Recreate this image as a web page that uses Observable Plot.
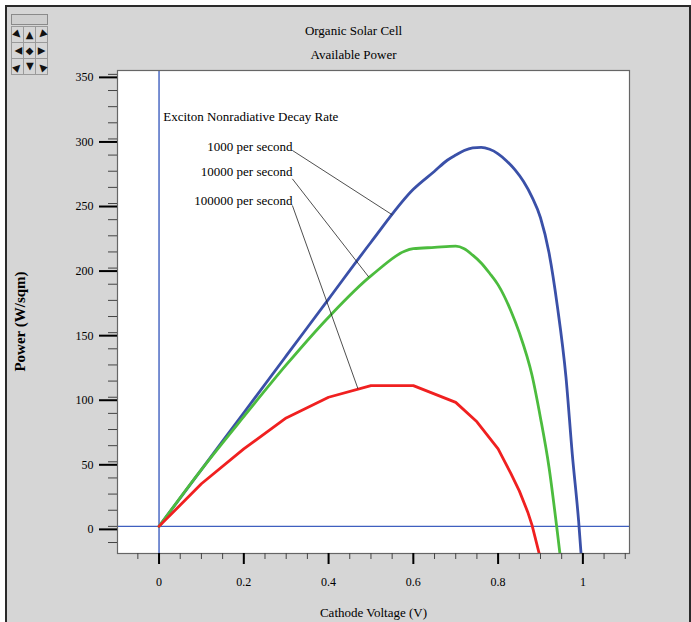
<!DOCTYPE html>
<html>
<head>
<meta charset="utf-8">
<script src="https://cdn.jsdelivr.net/npm/d3@7"></script>
<script src="https://cdn.jsdelivr.net/npm/@observablehq/plot@0.6"></script>
<style>
  html, body { margin: 0; padding: 0; background: white; }
  #wrap { position: relative; width: 691px; height: 622px; overflow: hidden; font-family: "Liberation Serif", serif; }
  #panel { position: absolute; left: 5px; top: 5px; width: 686px; height: 617px; box-sizing: border-box;
           background: #d6d6d6; border: 2px solid #2a2a2a; border-bottom: none; }
  #nav { position: absolute; left: 11px; top: 14px; width: 37px; }
  #nav .bar { height: 11px; border: 1px solid #8a8a8a; box-sizing: border-box;
              background-color: #cfcfcf;
              background-image: radial-gradient(#8c8c8c 0.6px, transparent 0.7px);
              background-size: 2px 2px; margin-bottom: 1px; }
  #nav .grid { display: grid; grid-template-columns: 12px 12px 12px; grid-auto-rows: 16px;
               border-left: 1px solid #9a9a9a; border-top: 1px solid #9a9a9a; width: 37px; box-sizing: border-box; }
  #nav .grid span { display: flex; align-items: center; justify-content: center;
                    border-right: 1px solid #9a9a9a; border-bottom: 1px solid #9a9a9a;
                    font-family: "DejaVu Sans", sans-serif; font-size: 10px; color: #111; }
  #nav .grid span i { font-style: normal; display: inline-block; line-height: 1; }
  #chart { position: absolute; left: 0; top: 0; }
</style>
</head>
<body>
<div id="wrap">
  <div id="panel"></div>
  <div id="nav">
    <div class="bar"></div>
    <div class="grid">
      <span><i style="transform:rotate(135deg)">▲</i></span>
      <span><i>▲</i></span>
      <span><i style="transform:rotate(-135deg)">▲</i></span>
      <span><i style="transform:rotate(-90deg)">▲</i></span>
      <span><i>◆</i></span>
      <span><i style="transform:rotate(90deg)">▲</i></span>
      <span><i style="transform:rotate(45deg)">▲</i></span>
      <span><i style="transform:rotate(180deg)">▲</i></span>
      <span><i style="transform:rotate(-45deg)">▲</i></span>
    </div>
  </div>
  <div id="chart"></div>
</div>
<script>
// ---- Data ----
const voltBlue  = [0, 0.1, 0.2, 0.3, 0.4, 0.5, 0.6, 0.65, 0.68, 0.7, 0.72, 0.74, 0.76, 0.78, 0.8, 0.82, 0.84, 0.86, 0.88, 0.9, 0.92, 0.94, 0.96, 0.975, 0.99, 1.0];
const powerBlue = [0, 44, 88, 132, 176, 220, 261, 275, 283.5, 287.5, 291, 293, 293.5, 292, 288.5, 283, 276, 267, 255, 239, 212, 170, 116, 56, 4, -40];

const voltGreen  = [0, 0.1, 0.2, 0.3, 0.4, 0.5, 0.6, 0.65, 0.7, 0.72, 0.74, 0.76, 0.78, 0.8, 0.83, 0.85, 0.88, 0.9, 0.92, 0.94, 0.96];
const powerGreen = [0, 44, 85, 125, 162, 194, 215, 216, 217, 215, 210, 204, 196, 187, 167, 150, 117, 84, 46, -5, -60];

const voltRed  = [0, 0.1, 0.2, 0.3, 0.4, 0.5, 0.6, 0.7, 0.75, 0.8, 0.83, 0.85, 0.87, 0.88, 0.9];
const powerRed = [0, 33, 60, 84, 100, 109, 109, 96, 81, 60, 41, 27.5, 11, 1, -25];

const seriesNames  = ["1000 per second", "10000 per second", "100000 per second"];
const seriesColors = ["#3a50a8", "#4cbc3e", "#f02020"];

const xMajorTicks = [0, 0.2, 0.4, 0.6, 0.8, 1];
const xMinorTicks = d3.range(-0.05, 1.1001, 0.05).map(v => Math.round(v * 100) / 100);
const yMajorTicks = [0, 50, 100, 150, 200, 250, 300, 350];
const yMinorTicks = d3.range(-12.5, 350.1, 12.5);

const titleLines = ["Organic Solar Cell", "Available Power"];
const xTitle = "Cathode Voltage (V)";
const yTitle = "Power (W/sqm)";
const legendHeader = "Exciton Nonradiative Decay Rate";

// annotation label anchors and leader lines (data coordinates)
const headerX = 0.01, headerY = 316.8;
const labelX = [0.315, 0.315, 0.315];
const labelY = [293.6, 274.2, 252.3];
const leaderX1 = [0.3146, 0.3146, 0.3146];
const leaderY1 = [291.1, 269.1, 248.5];
const leaderX2 = [0.5505, 0.4953, 0.4693];
const leaderY2 = [241.2, 192.9, 106.6];

// ---- Build tables ----
const smoothData = [
  ...voltBlue.map((v, i) => ({v, p: powerBlue[i], s: seriesNames[0]})),
  ...voltGreen.map((v, i) => ({v, p: powerGreen[i], s: seriesNames[1]}))
];
const redData = voltRed.map((v, i) => ({v, p: powerRed[i], s: seriesNames[2]}));
const labels = seriesNames.map((n, i) => ({n, x: labelX[i], y: labelY[i]}));
const leaders = seriesNames.map((n, i) => ({x1: leaderX1[i], y1: leaderY1[i], x2: leaderX2[i], y2: leaderY2[i]}));

const chart = Plot.plot({
  width: 691,
  height: 622,
  marginLeft: 117,
  marginRight: 62,
  marginTop: 70,
  marginBottom: 69,
  style: {background: "transparent", fontFamily: "Liberation Serif, serif", fontSize: "12px", color: "black", overflow: "visible"},
  x: {domain: [-0.098, 1.11]},
  y: {domain: [-21, 353]},
  color: {domain: seriesNames, range: seriesColors},
  marks: [
    Plot.frame({fill: "white", stroke: "none"}),
    Plot.ruleX([0], {stroke: "#3f5fbf", strokeWidth: 1.4}),
    Plot.ruleY([0], {stroke: "#3f5fbf", strokeWidth: 1.4}),
    Plot.line(smoothData, {x: "v", y: "p", z: "s", stroke: "s", strokeWidth: 2.8, strokeLinejoin: "round", curve: "monotone-x", clip: true}),
    Plot.line(redData, {x: "v", y: "p", z: "s", stroke: "s", strokeWidth: 2.8, strokeLinejoin: "round", curve: "linear", clip: true}),
    Plot.link(leaders, {x1: "x1", y1: "y1", x2: "x2", y2: "y2", stroke: "#222", strokeWidth: 0.8}),
    Plot.text([legendHeader], {x: () => headerX, y: () => headerY, text: d => d, textAnchor: "start", fontSize: 13}),
    Plot.text(labels, {x: "x", y: "y", text: "n", textAnchor: "end", fontSize: 13}),
    Plot.frame({stroke: "#666", strokeWidth: 1.2}),
    // axes
    Plot.axisY(yMinorTicks, {tickSize: 9, tickFormat: () => "", label: null, stroke: "#444", strokeWidth: 1}),
    Plot.axisY(yMajorTicks, {tickSize: 18, tickPadding: 6, label: null, strokeWidth: 2, dy: 3, fontSize: 12}),
    Plot.axisX(xMinorTicks, {tickSize: 6, tickFormat: () => "", label: null, stroke: "#444", strokeWidth: 1}),
    Plot.axisX(xMajorTicks, {tickSize: 11, tickPadding: 13, label: null, strokeWidth: 2, fontSize: 12, tickFormat: d => String(d)}),
    // titles
    Plot.text([titleLines[0]], {frameAnchor: "top", text: d => d, textAnchor: "middle", lineAnchor: "middle", dx: -20, dy: -40, fontSize: 13}),
    Plot.text([titleLines[1]], {frameAnchor: "top", text: d => d, textAnchor: "middle", lineAnchor: "middle", dx: -20, dy: -16, fontSize: 13}),
    Plot.text([xTitle], {frameAnchor: "bottom", text: d => d, textAnchor: "middle", lineAnchor: "middle", dy: 59, fontSize: 13}),
    Plot.text([yTitle], {frameAnchor: "left", text: d => d, rotate: -90, textAnchor: "middle", lineAnchor: "middle", dx: -97, dy: 9.5, fontSize: 15, fontWeight: "bold"})
  ]
});
document.getElementById("chart").appendChild(chart);
</script>
</body>
</html>
